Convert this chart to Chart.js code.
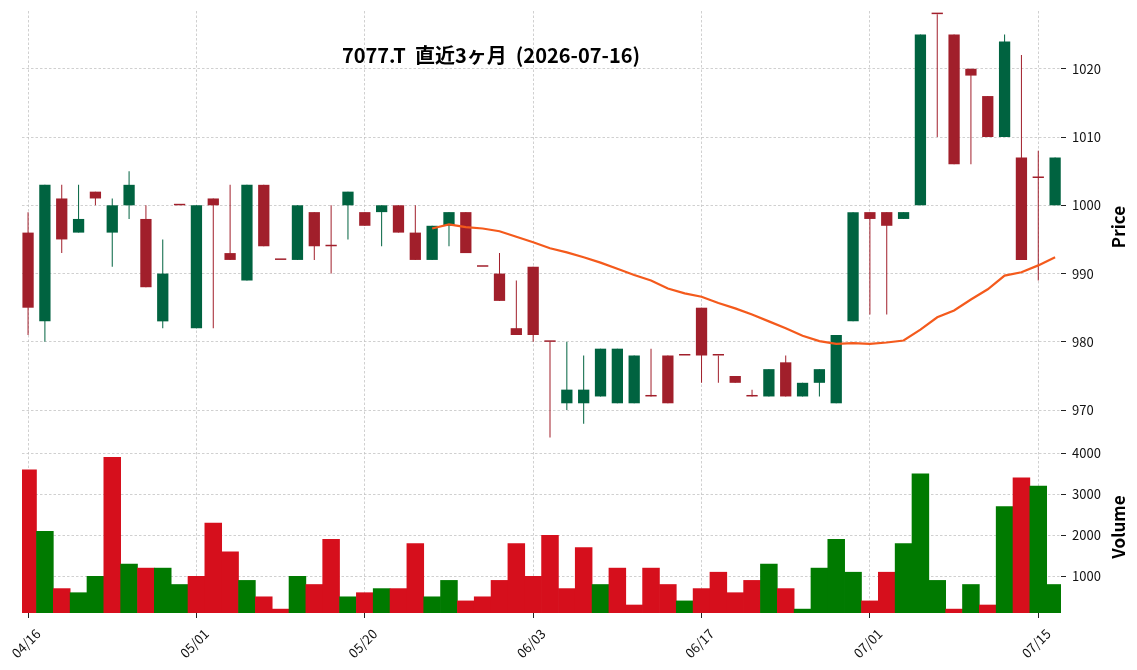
<!DOCTYPE html>
<html lang="ja">
<head>
  <meta charset="UTF-8">
  <title>7077.T 直近3ヶ月</title>
  <script src="https://cdn.jsdelivr.net/npm/chart.js"></script>
  <style>
    body { margin: 0; background: #fff; }
    #wrap { position: relative; width: 1137px; height: 670px; font-family: 'Noto Sans CJK JP', 'Noto Sans', sans-serif; }
    #chart { position: absolute; left: 0; top: 0; }
    .lbl { position: absolute; font-weight: bold; color: #000; white-space: pre; }
    #title { left: 491px; top: 54px; font-size: 20px; transform: translate(-50%, -50%); }
    .ytitle { font-size: 17px; transform: translate(-50%, -50%) rotate(-90deg); }
  </style>
</head>
<body>
<div id="wrap">
  <canvas id="chart" width="1137" height="670"></canvas>
  <div id="title" class="lbl">7077.T  直近3ヶ月  (2026-07-16)</div>
  <div class="lbl ytitle" style="left:1117px; top:227px;">Price</div>
  <div class="lbl ytitle" style="left:1117px; top:527px;">Volume</div>
</div>

<script>
  // trading days shown on the chart
  const dates = [
    '04/16', '04/17', '04/20', '04/21', '04/22', '04/23', '04/24', '04/27', '04/28', '04/30',
    '05/01', '05/07', '05/08', '05/11', '05/12', '05/13', '05/14', '05/15', '05/18', '05/19',
    '05/20', '05/21', '05/22', '05/25', '05/26', '05/27', '05/28', '05/29', '06/01', '06/02',
    '06/03', '06/04', '06/05', '06/08', '06/09', '06/10', '06/11', '06/12', '06/15', '06/16',
    '06/17', '06/18', '06/19', '06/22', '06/23', '06/24', '06/25', '06/26', '06/29', '06/30',
    '07/01', '07/02', '07/03', '07/06', '07/07', '07/08', '07/09', '07/10', '07/13', '07/14',
    '07/15', '07/16'
  ];

  const opens = [
    996, 983, 1001, 996, 1002, 996, 1000, 998, 983, 1000,
    982, 1001, 993, 989, 1003, 992, 992, 999, 994, 1000,
    999, 999, 1000, 996, 992, 997, 999, 991, 990, 982,
    991, 980, 971, 971, 972, 971, 971, 972, 978, 978,
    985, 978, 975, 972, 972, 977, 972, 974, 971, 983,
    999, 999, 998, 1000, 1028, 1025, 1020, 1016, 1010, 1007,
    1004, 1000
  ];
  const highs = [
    999, 1003, 1003, 1003, 1002, 1001, 1005, 1000, 995, 1000,
    1000, 1001, 1003, 1003, 1003, 992, 1000, 999, 1000, 1002,
    999, 1000, 1000, 1000, 997, 999, 999, 991, 993, 989,
    991, 980, 980, 978, 979, 979, 978, 979, 978, 978,
    985, 978, 975, 973, 976, 978, 974, 976, 981, 999,
    999, 999, 999, 1025, 1028, 1025, 1020, 1016, 1025, 1022,
    1008, 1007
  ];
  const lows = [
    981, 980, 993, 996, 1000, 991, 998, 988, 982, 1000,
    982, 982, 992, 989, 994, 992, 992, 992, 990, 995,
    997, 994, 996, 992, 992, 994, 993, 991, 986, 981,
    980, 966, 970, 968, 972, 971, 971, 972, 971, 978,
    974, 974, 974, 972, 972, 972, 972, 972, 971, 983,
    984, 984, 998, 1000, 1010, 1006, 1006, 1010, 1010, 992,
    989, 1000
  ];
  const closes = [
    985, 1003, 995, 998, 1001, 1000, 1003, 988, 990, 1000,
    1000, 1000, 992, 1003, 994, 992, 1000, 994, 994, 1002,
    997, 1000, 996, 992, 997, 999, 993, 991, 986, 981,
    981, 980, 973, 973, 979, 979, 978, 972, 971, 978,
    978, 978, 974, 972, 976, 972, 974, 976, 981, 999,
    998, 997, 999, 1025, 1028, 1006, 1019, 1010, 1024, 992,
    1004, 1007
  ];
  const volumes = [
    3600, 2100, 700, 600, 1000, 3900, 1300, 1200, 1200, 800,
    1000, 2300, 1600, 900, 500, 200, 1000, 800, 1900, 500,
    600, 700, 700, 1800, 500, 900, 400, 500, 900, 1800,
    1000, 2000, 700, 1700, 800, 1200, 300, 1200, 800, 400,
    700, 1100, 600, 900, 1300, 700, 200, 1200, 1900, 1100,
    400, 1100, 1800, 3500, 900, 200, 800, 300, 2700, 3400,
    3200, 800
  ];
  // 25-day moving average
  const ma25 = [
    null, null, null, null, null, null, null, null, null, null,
    null, null, null, null, null, null, null, null, null, null,
    null, null, null, null, 996.6, 997.2, 996.8, 996.6, 996.2, 995.4,
    994.6, 993.7, 993.1, 992.4, 991.6, 990.7, 989.8, 989.0, 987.8, 987.1,
    986.6, 985.7, 984.9, 984.0, 983.0, 982.0, 980.9, 980.1, 979.7, 979.8,
    979.7, 979.9, 980.2, 981.8, 983.6, 984.6, 986.2, 987.7, 989.7, 990.2,
    991.2, 992.4
  ];

  // tick positions
  const dateTicks = [0, 10, 20, 30, 40, 50, 60];
  const priceTicks = [970, 980, 990, 1000, 1010, 1020];
  const volumeTicks = [1000, 2000, 3000, 4000];

  const UP = '#006340', DOWN = '#a11f2b';
  const VUP = '#007a00', VDOWN = '#d60f1c';
  const GRID = '#c4c4c4';
  const tickFont = { family: "'Noto Sans CJK JP', 'Noto Sans', sans-serif", size: 13 };

  const candleColor = (ctx) => closes[ctx.dataIndex] > opens[ctx.dataIndex] ? UP : DOWN;
  const volColor = (ctx) => {
    const i = ctx.dataIndex;
    return i > 0 && closes[i] > closes[i - 1] ? VUP : VDOWN;
  };
  const setTicks = (list) => (s) => { s.ticks = list.map((v) => ({ value: v })); };

  const gridOpts = { color: GRID, lineWidth: 0.8, tickLength: 5, tickColor: '#222', tickWidth: 1, tickBorderDash: [], offset: false };
  const borderOpts = { display: false, dash: [2.5, 2] };

  new Chart(document.getElementById('chart'), {
    data: {
      datasets: [
        {
          type: 'line',
          data: ma25.map((v, i) => ({ x: i, y: v })),
          yAxisID: 'y',
          borderColor: '#f45a1c',
          borderWidth: 2.2,
          pointRadius: 0,
          order: 0,
        },
        {
          type: 'bar',
          data: opens.map((o, i) => ({ x: i, y: [o, closes[i]] })),
          yAxisID: 'y',
          backgroundColor: candleColor,
          grouped: false,
          categoryPercentage: 1,
          barPercentage: 0.67,
          minBarLength: 1.5,
          clip: 0,
          order: 1,
        },
        {
          type: 'bar',
          data: lows.map((l, i) => ({ x: i, y: [l, highs[i]] })),
          yAxisID: 'y',
          backgroundColor: candleColor,
          grouped: false,
          maxBarThickness: 1,
          clip: 0,
          order: 2,
        },
        {
          type: 'bar',
          data: volumes.map((v, i) => ({ x: i, y: v })),
          yAxisID: 'yv',
          backgroundColor: volColor,
          grouped: false,
          categoryPercentage: 1,
          barPercentage: 1,
          base: 0,
          clip: 0,
          order: 3,
        }
      ]
    },
    options: {
      responsive: false,
      animation: false,
      layout: { padding: { left: 22, top: 11, right: 0, bottom: 0 } },
      plugins: { legend: { display: false }, tooltip: { enabled: false } },
      scales: {
        x: {
          type: 'linear',
          min: -0.36,
          max: 61.35,
          offset: false,
          grid: gridOpts,
          border: borderOpts,
          afterBuildTicks: setTicks(dateTicks),
          ticks: {
            autoSkip: false,
            minRotation: 45,
            maxRotation: 45,
            padding: 8,
            labelOffset: 10,
            font: tickFont,
            color: '#111',
            callback: (v) => dates[v],
          },
          afterFit: (s) => { s.height = 57; s.paddingLeft = 0; s.paddingRight = 0; },
        },
        y: {
          type: 'linear',
          position: 'right',
          stack: 'panes',
          stackWeight: 431,
          min: 965.33,
          max: 1028.46,
          grid: gridOpts,
          border: borderOpts,
          afterBuildTicks: setTicks(priceTicks),
          ticks: { autoSkip: false, padding: 6, font: tickFont, color: '#111', callback: (v) => String(v) },
          afterFit: (s) => { s.width = 76; s.paddingTop = 0; s.paddingBottom = 0; },
        },
        yv: {
          type: 'linear',
          position: 'right',
          stack: 'panes',
          stackWeight: 171,
          min: 105,
          max: 4276,
          grid: gridOpts,
          border: borderOpts,
          afterBuildTicks: setTicks(volumeTicks),
          ticks: { autoSkip: false, padding: 6, font: tickFont, color: '#111', callback: (v) => String(v) },
          afterFit: (s) => { s.width = 76; s.paddingTop = 0; s.paddingBottom = 0; },
        }
      }
    }
  });
</script>
</body>
</html>
